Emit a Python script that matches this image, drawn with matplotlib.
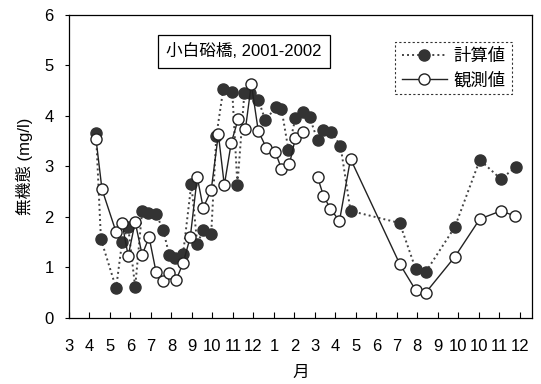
import numpy as np
import matplotlib
matplotlib.use("Agg")
import matplotlib.pyplot as plt

plt.rcParams['font.family'] = ['Liberation Sans', 'Noto Sans CJK JP', 'DejaVu Sans']

# x = months since 1 March 2001, y = mg/l
calc_x = [1.32, 1.56, 2.30, 2.59, 2.89, 3.23, 3.57, 3.86, 4.25, 4.60, 4.89, 5.18,
          5.57, 5.97, 6.26, 6.55, 6.94, 7.19, 7.53, 7.97, 8.22, 8.56, 8.85, 9.24,
          9.58, 10.12, 10.37, 10.71, 11.05, 11.44, 11.74, 12.13, 12.42, 12.81,
          13.25, 13.74, 16.14, 16.92, 17.41, 18.83, 20.05, 21.08, 21.81]
calc_y = [3.66, 1.56, 0.59, 1.50, 1.80, 0.61, 2.12, 2.08, 2.06, 1.74, 1.25, 1.19,
          1.27, 2.65, 1.47, 1.74, 1.66, 3.60, 4.53, 4.48, 2.63, 4.46, 4.46, 4.32,
          3.92, 4.18, 4.14, 3.33, 3.96, 4.08, 3.98, 3.52, 3.72, 3.68,
          3.41, 2.12, 1.88, 0.97, 0.91, 1.80, 3.13, 2.75, 2.99]

# NaN = no observation between the two surveys (line broken)
obs_x = [1.32, 1.61, 2.30, 2.59, 2.89, 3.23, 3.57, 3.91, 4.25, 4.60, 4.89, 5.23,
         5.57, 5.92, 6.26, 6.55, 6.94, 7.29, 7.58, 7.92, 8.26, 8.61, 8.90, 9.24,
         9.63, 10.07, 10.37, 10.76, 11.05, 11.44, 11.8, 12.13, 12.42, 12.76, 13.20,
         13.74, 16.14, 16.92, 17.41, 18.83, 20.05, 21.08, 21.76]
obs_y = [3.54, 2.55, 1.70, 1.88, 1.23, 1.90, 1.25, 1.60, 0.91, 0.73, 0.89, 0.75,
         1.09, 1.60, 2.79, 2.18, 2.53, 3.64, 2.63, 3.47, 3.94, 3.74, 4.63, 3.70,
         3.37, 3.29, 2.95, 3.05, 3.56, 3.68, np.nan, 2.79, 2.42, 2.16, 1.92,
         3.15, 1.07, 0.55, 0.50, 1.21, 1.96, 2.12, 2.02]

month_labels = ['3', '4', '5', '6', '7', '8', '9', '10', '11', '12', '1', '2',
                '3', '4', '5', '6', '7', '8', '9', '10', '10', '11', '12']

fig = plt.figure(figsize=(5.41, 3.84), dpi=100)
ax = fig.add_axes([0.1275, 0.172, 0.856, 0.789])

ax.plot(calc_x, calc_y, linestyle=(0, (1, 1.6)), color='#444444', lw=1.4,
        marker='o', ms=8, mfc='#333333', mec='#333333', label='計算値')
ax.plot(obs_x, obs_y, linestyle='-', color='#222222', lw=1.0,
        marker='o', ms=8, mfc='white', mec='#222222', mew=1.0, label='観測値')

ax.set_xlim(0, 22.6)
ax.set_ylim(0, 6)
ax.set_xticks(range(len(month_labels)))
ax.set_xticklabels(month_labels)
ax.set_yticks(range(7))
ax.tick_params(axis='x', direction='in', length=4, labelsize=12, pad=15)
ax.tick_params(axis='y', direction='out', length=3, labelsize=12, pad=8)
for s in ax.spines.values():
    s.set_linewidth(0.9)

ax.set_xlabel('月', fontsize=12, labelpad=8)
ax.set_ylabel('無機態 (mg/l)', fontsize=12, labelpad=8)

ax.text(0.21, 0.88, '小白硲橋, 2001-2002', transform=ax.transAxes, fontsize=12,
        va='center', ha='left',
        bbox=dict(boxstyle='square,pad=0.5', fc='white', ec='black', lw=0.9))

leg = ax.legend(loc='upper right', bbox_to_anchor=(0.975, 0.94), fontsize=12.5,
                handlelength=2.6, frameon=True, fancybox=False,
                borderpad=0.35, labelspacing=0.45, handletextpad=0.4)
leg.get_frame().set_edgecolor('black')
leg.get_frame().set_linestyle((0, (2, 2)))
leg.get_frame().set_linewidth(0.8)

fig.savefig('out.png', dpi=100)
